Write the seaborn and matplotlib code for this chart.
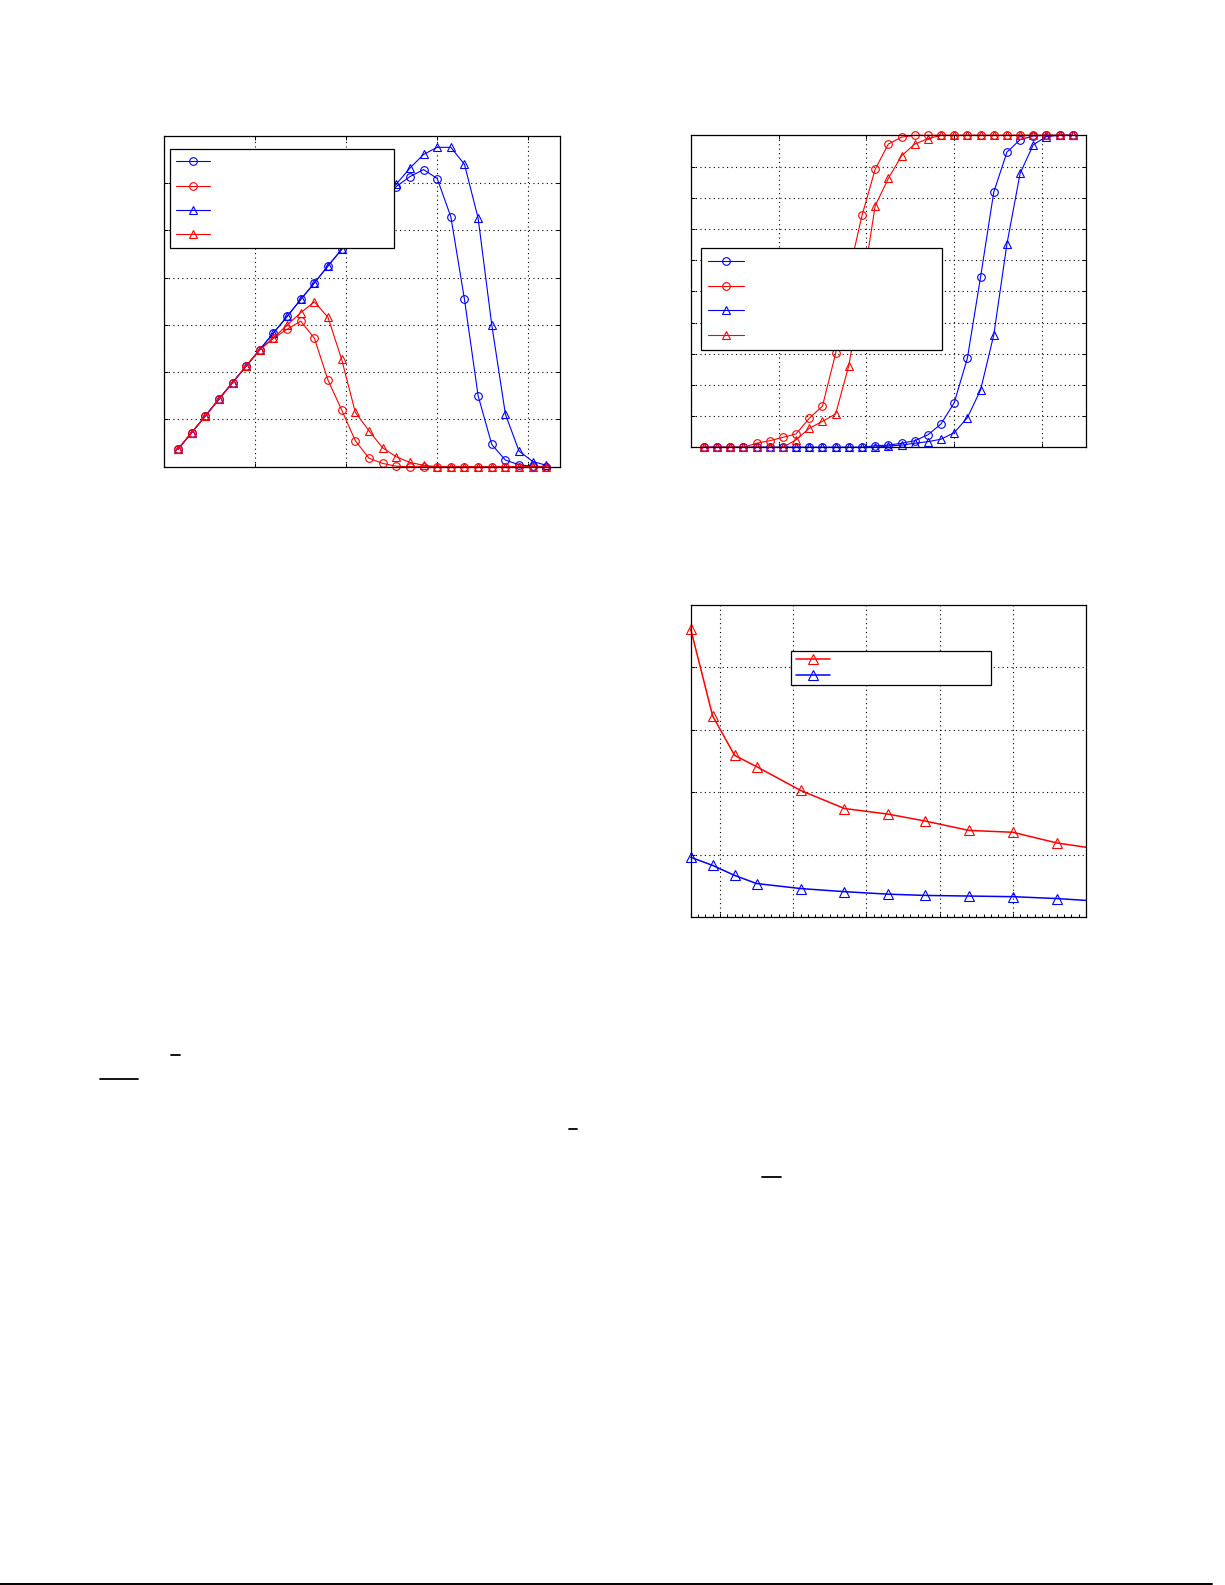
import matplotlib
matplotlib.use("Agg")
import matplotlib.pyplot as plt
from matplotlib.lines import Line2D
from matplotlib.ticker import MultipleLocator
import seaborn as sns

# ---------------- data ----------------
# Figure (a): left panel
x1 = [0.15, 0.30, 0.45, 0.60, 0.75, 0.90, 1.05, 1.20, 1.35, 1.50, 1.65, 1.80, 1.95, 2.10,
      2.25, 2.40, 2.55, 2.70, 2.85, 3.00, 3.15, 3.30, 3.45, 3.60, 3.75, 3.90, 4.05, 4.20]
blue_circ1 = [0.37, 0.72, 1.07, 1.43, 1.78, 2.13, 2.48, 2.83, 3.18, 3.54, 3.89, 4.25, 4.60, 4.95,
              5.30, 5.62, 5.93, 6.14, 6.29, 6.10, 5.29, 3.54, 1.50, 0.47, 0.14, 0.04, 0.01, 0.00]
red_circ1 = [0.37, 0.72, 1.07, 1.43, 1.78, 2.13, 2.48, 2.72, 2.91, 3.08, 2.72, 1.83, 1.20, 0.55,
             0.18, 0.07, 0.01, 0.00, 0.00, 0.00, 0.00, 0.00, 0.00, 0.00, 0.00, 0.00, 0.00, 0.00]
blue_tri1 = [0.37, 0.72, 1.07, 1.43, 1.78, 2.13, 2.48, 2.83, 3.18, 3.54, 3.89, 4.25, 4.60, 4.95,
             5.30, 5.64, 5.98, 6.32, 6.61, 6.76, 6.76, 6.40, 5.26, 3.00, 1.11, 0.33, 0.11, 0.03]
red_tri1 = [0.37, 0.72, 1.07, 1.43, 1.78, 2.13, 2.48, 2.72, 3.00, 3.26, 3.49, 3.16, 2.27, 1.15,
            0.76, 0.40, 0.21, 0.09, 0.03, 0.00, 0.00, 0.00, 0.00, 0.00, 0.00, 0.00, 0.00, 0.00]

# Figure (b): right top panel
x2 = [0.15, 0.30, 0.45, 0.60, 0.75, 0.90, 1.05, 1.20, 1.35, 1.50, 1.65, 1.80, 1.95, 2.10, 2.25,
      2.40, 2.55, 2.70, 2.85, 3.00, 3.15, 3.30, 3.45, 3.60, 3.75, 3.90, 4.05, 4.20, 4.35]
blue_circ2 = [0, 0, 0, 0, 0, 0, 0, 0, 0, 0, 0, 0, 0, 0.005, 0.007, 0.013, 0.021, 0.040, 0.075,
              0.143, 0.286, 0.546, 0.818, 0.946, 0.986, 0.998, 1.0, 1.0, 1.0]
red_circ2 = [0, 0, 0, 0, 0.013, 0.021, 0.032, 0.043, 0.093, 0.132, 0.301, 0.557, 0.743, 0.891,
             0.972, 0.994, 1.0, 1.0, 1.0, 1.0, 1.0, 1.0, 1.0, 1.0, 1.0, 1.0, 1.0, 1.0, 1.0]
blue_tri2 = [0, 0, 0, 0, 0, 0, 0, 0, 0, 0, 0, 0, 0, 0, 0.004, 0.007, 0.013, 0.018, 0.026,
             0.047, 0.095, 0.184, 0.360, 0.652, 0.878, 0.970, 0.996, 1.0, 1.0]
red_tri2 = [0, 0, 0, 0, 0, 0, 0, 0.024, 0.061, 0.083, 0.107, 0.262, 0.502, 0.774, 0.862, 0.934,
            0.972, 0.989, 1.0, 1.0, 1.0, 1.0, 1.0, 1.0, 1.0, 1.0, 1.0, 1.0, 1.0]

# Figure (c): right bottom panel
x3 = [6, 9, 12, 15, 21, 27, 33, 38, 44, 50, 56, 60]
red3 = [4.61, 3.22, 2.59, 2.41, 2.03, 1.74, 1.65, 1.54, 1.39, 1.36, 1.19, 1.12]
blue3 = [0.96, 0.83, 0.67, 0.54, 0.46, 0.41, 0.37, 0.35, 0.34, 0.33, 0.30, 0.27]

legend_labels = ["", "", "", ""]

# ---------------- layout ----------------
W, H = 1225, 1585
sns.set_style("white")
plt.rcParams["font.family"] = ["DejaVu Sans"]
fig = plt.figure(figsize=(W / 100, H / 100), dpi=100)
fig.patch.set_facecolor("white")


def rect(l, t, r, b):
    return [l / W, 1 - b / H, (r - l) / W, (b - t) / H]


def style_axes(ax, top_right=True):
    ax.grid(True, linestyle=(0, (1, 3)), color="black", linewidth=0.8)
    for s in ax.spines.values():
        s.set_visible(True)
        s.set_color("black")
        s.set_linewidth(0.9)
    ax.tick_params(which="both", direction="in", length=3, width=0.7, color="black",
                   top=top_right, right=top_right, bottom=True, left=True,
                   labelbottom=False, labelleft=False)
    ax.set_xlabel("")
    ax.set_ylabel("")


BLUE = "#0000ff"
RED = "#ff0000"


def draw(ax, x, y, color, marker, ms, lw, markevery=None):
    kw = dict(x=x, y=y, ax=ax, color=color, marker=marker, markersize=ms,
              markerfacecolor="none", markeredgecolor=color, markeredgewidth=0.8,
              linewidth=lw, clip_on=False, sort=False, estimator=None)
    if markevery is not None:
        kw["markevery"] = markevery
    sns.lineplot(**kw)


CMS, TMS = 5.5, 6.3

# Panel 1
ax1 = fig.add_axes(rect(164.3, 136, 560, 466.7))
draw(ax1, x1, blue_circ1, BLUE, "o", CMS, 0.8)
draw(ax1, x1, red_circ1, RED, "o", CMS, 0.8)
draw(ax1, x1, blue_tri1, BLUE, "^", TMS, 0.8)
draw(ax1, x1, red_tri1, RED, "^", TMS, 0.8)
ax1.set_xlim(0, 4.35)
ax1.set_ylim(0, 7)
ax1.xaxis.set_major_locator(MultipleLocator(1))
ax1.yaxis.set_major_locator(MultipleLocator(1))
style_axes(ax1)
h1 = list(ax1.lines)
leg1 = ax1.legend(h1, legend_labels, loc="upper left",
                  bbox_to_anchor=(170 / W, 1 - 149 / H, (394 - 170) / W, 0),
                  bbox_transform=fig.transFigure, mode="expand", borderaxespad=0,
                  fontsize=10, labelspacing=0.74, borderpad=0.45, handlelength=2.4,
                  handletextpad=0.5, fancybox=False, framealpha=1, edgecolor="black")
leg1.get_frame().set_linewidth(0.9)

# Panel 2
ax2 = fig.add_axes(rect(690.7, 135.3, 1086, 447.3))
draw(ax2, x2, blue_circ2, BLUE, "o", CMS, 0.8)
draw(ax2, x2, red_circ2, RED, "o", CMS, 0.8)
draw(ax2, x2, blue_tri2, BLUE, "^", TMS, 0.8)
draw(ax2, x2, red_tri2, RED, "^", TMS, 0.8)
ax2.set_xlim(0, 4.5)
ax2.set_ylim(0, 1)
ax2.xaxis.set_major_locator(MultipleLocator(1))
ax2.yaxis.set_major_locator(MultipleLocator(0.1))
style_axes(ax2)
h2 = list(ax2.lines)
leg2 = ax2.legend(h2, legend_labels, loc="upper left",
                  bbox_to_anchor=(701.3 / W, 1 - 248.3 / H, (942.3 - 701.3) / W, 0),
                  bbox_transform=fig.transFigure, mode="expand", borderaxespad=0,
                  fontsize=10, labelspacing=0.76, borderpad=0.5, handlelength=2.6,
                  handletextpad=0.5, fancybox=False, framealpha=1, edgecolor="black")
leg2.get_frame().set_linewidth(0.9)

# Panel 3
ax3 = fig.add_axes(rect(690.7, 604.7, 1086, 917.3))
n3 = len(x3)
draw(ax3, x3, red3, RED, "^", 6.5, 1.1, markevery=list(range(n3 - 1)))
draw(ax3, x3, blue3, BLUE, "^", 6.5, 1.1, markevery=list(range(n3 - 1)))
ax3.set_xlim(6, 60)
ax3.set_ylim(0, 5)
ax3.xaxis.set_major_locator(MultipleLocator(10))
ax3.xaxis.set_minor_locator(MultipleLocator(1))
ax3.yaxis.set_major_locator(MultipleLocator(1))
style_axes(ax3, top_right=False)
ax3.tick_params(axis="y", which="minor", left=False, right=False)
ax3.tick_params(axis="x", which="minor", bottom=True, top=False, length=2.5)
h3 = list(ax3.lines)
leg3 = ax3.legend(h3, legend_labels[:2], loc="upper left",
                  bbox_to_anchor=(791.3 / W, 1 - 650.7 / H, (991 - 791.3) / W, 0),
                  bbox_transform=fig.transFigure, mode="expand", borderaxespad=0,
                  fontsize=8, labelspacing=0.55, borderpad=0.38, handlelength=3.1,
                  handletextpad=0.5, fancybox=False, framealpha=1, edgecolor="black")
leg3.get_frame().set_linewidth(0.9)

# Page decorations (fraction bars and bottom rule)
def hline(x0, x1_, y, lw):
    fig.add_artist(Line2D([x0 / W, x1_ / W], [1 - y / H, 1 - y / H],
                          transform=fig.transFigure, color="black", linewidth=lw))

hline(100, 138, 1078.5, 1.3)
hline(171, 180, 1054.5, 1.3)
hline(569, 577, 1128.5, 1.3)
hline(762, 781, 1176.5, 1.3)
hline(0, 1212, 1583.5, 1.4)

fig.savefig("out.png", dpi=100, facecolor="white")
